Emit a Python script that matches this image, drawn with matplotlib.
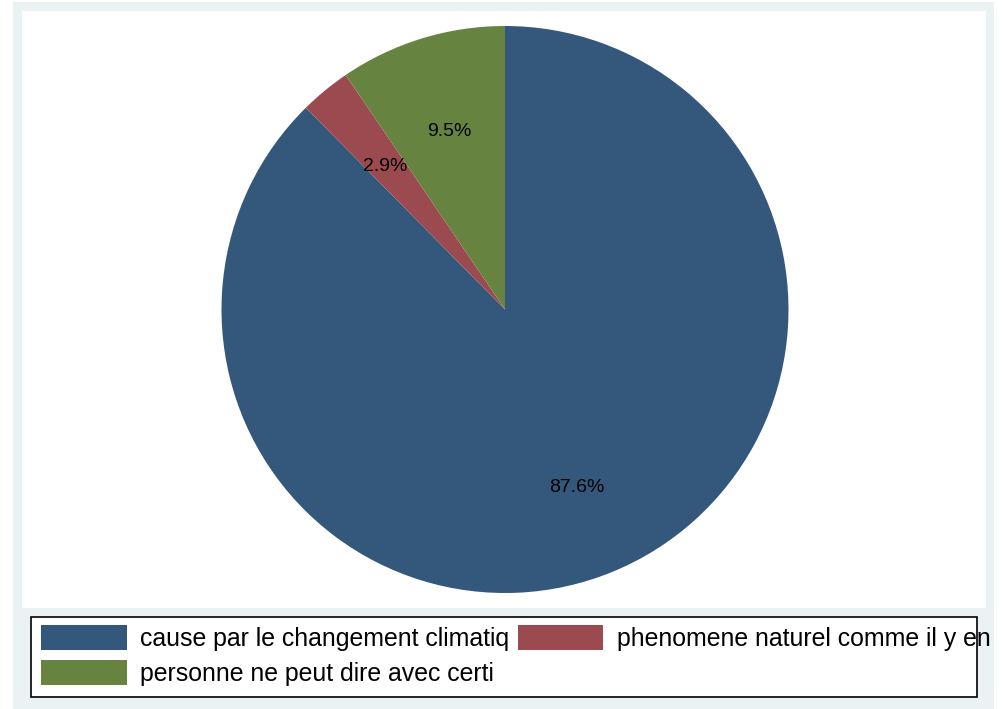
import matplotlib
matplotlib.use("Agg")
import matplotlib.pyplot as plt
from matplotlib.patches import Rectangle, Patch
from matplotlib.transforms import offset_copy

labels = ["cause par le changement climatiq",
          "phenomene naturel comme il y en",
          "personne ne peut dire avec certi"]
shares = [87.6, 2.9, 9.5]
colors = ["#33587b", "#9b4a50", "#66843f"]

plt.rcParams['font.family'] = ['Liberation Sans', 'DejaVu Sans']

W, H = 1002, 709
fig = plt.figure(figsize=(W / 100, H / 100), dpi=100)
fig.patch.set_facecolor("white")


def px_rect(x0, y0, x1, y1, **kw):
    # pixel box (from top-left) -> figure fraction rectangle
    r = Rectangle((x0 / W, 1 - y1 / H), (x1 - x0) / W, (y1 - y0) / H,
                  transform=fig.transFigure, **kw)
    fig.patches.append(r)
    return r


# outer light background and inner white plot region
px_rect(13, 2, 994, 709, facecolor="#eaf2f3", edgecolor="none", zorder=0)
px_rect(22, 11, 986, 608, facecolor="white", edgecolor="none", zorder=0)

# pie axes over the inner white region
ax = fig.add_axes([23 / W, 1 - 608 / H, (986 - 22) / W, (608 - 11) / H])
ax.set_zorder(2)
R = 283.5
wedges, texts, autotexts = ax.pie(
    shares, colors=colors, startangle=90, counterclock=False,
    autopct="%1.1f%%", pctdistance=0.667,
    textprops=dict(fontsize=14, color="black"),
    wedgeprops=dict(linewidth=0))
for t in autotexts:
    t.set_transform(offset_copy(t.get_transform(), fig=fig, x=0, y=-3,
                                units="dots"))
ax.set_xlim(-(986 - 22) / 2 / R, (986 - 22) / 2 / R)
ax.set_ylim(-(608 - 11) / 2 / R, (608 - 11) / 2 / R)
ax.set_aspect("auto")
ax.axis("off")

# legend frame drawn separately (text overflows it in the original)
px_rect(31, 617, 977, 697, facecolor="white", edgecolor="black",
        linewidth=1.2, zorder=1)

# row-major order: first row items 0 and 1, second row item 2
order = [0, 2, 1]
handles = [Patch(facecolor=colors[i], edgecolor="none") for i in order]
fs = 17.9
leg = fig.legend(handles, [labels[i] for i in order], ncol=2, frameon=False,
                 fontsize=fs, loc="upper left",
                 bbox_to_anchor=(41 / W, 1 - 625 / H),
                 borderpad=0, borderaxespad=0,
                 handlelength=3.45, handleheight=1.17, handletextpad=0.55,
                 columnspacing=0.32, labelspacing=0.36)
leg.set_zorder(3)

fig.savefig("out.png", dpi=100, facecolor=fig.get_facecolor())
